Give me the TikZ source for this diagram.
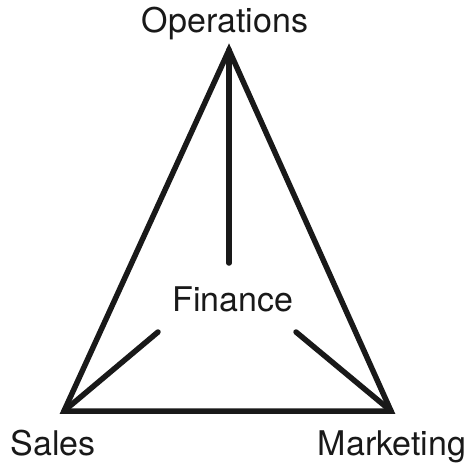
\documentclass[tikz,border=0pt]{standalone}
\usepackage{fontspec}
\setmainfont{TeX Gyre Heros}
\begin{document}
\begin{tikzpicture}[x=1pt,y=-1pt,
  edge/.style={line width=5.5pt,line cap=round,line join=miter,black!90},
  lbl/.style={font=\fontsize{34}{40}\selectfont,anchor=base,inner sep=0pt,text=black!90}]
\useasboundingbox (0,0) rectangle (471,466);
\coordinate (top) at (229,50);
\coordinate (bl) at (64,411);
\coordinate (br) at (391,411);
\coordinate (ctop) at (229,263);
\coordinate (cleft) at (158,332);
\coordinate (cright) at (296,332);
\draw[edge] (top) -- (bl) -- (br) -- cycle;
\draw[edge] (top) -- (ctop);
\draw[edge] (bl) -- (cleft);
\draw[edge] (br) -- (cright);
\node[lbl] (ops) at (225,32) {Operations};
\node[lbl] (fin) at (233,311.5) {Finance};
\node[lbl] (sales) at (53,455) {Sales};
\node[lbl] (mkt) at (392,455) {Marketing};
\end{tikzpicture}
\end{document}
